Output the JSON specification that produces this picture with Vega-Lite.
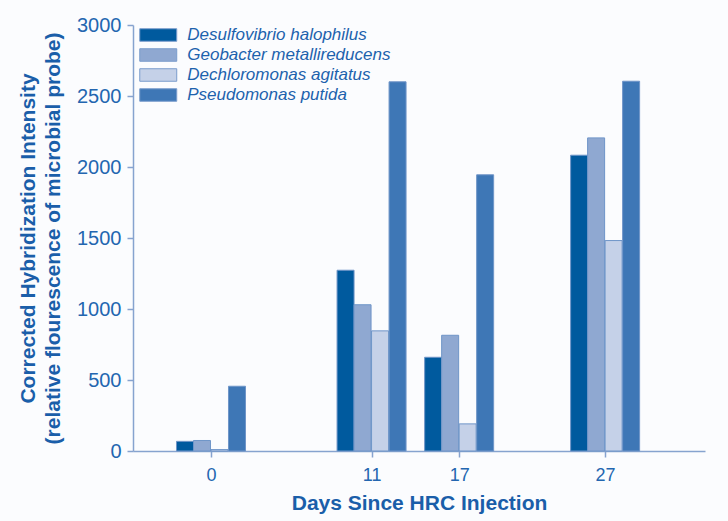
{
  "$schema": "https://vega.github.io/schema/vega-lite/v6.json",
  "width": 572,
  "height": 426,
  "autosize": {"type": "none"},
  "padding": {"left": 133, "top": 25, "right": 23, "bottom": 70},
  "background": "#fbfcfe",
  "config": {
    "font": "Liberation Sans",
    "view": {"stroke": null},
    "axis": {
      "grid": false,
      "domainColor": "#86a3cf",
      "tickColor": "#86a3cf",
      "domainWidth": 1.5,
      "tickWidth": 1.5,
      "labelFont": "Liberation Sans",
      "labelColor": "#2366b0",
      "titleFont": "Liberation Sans",
      "titleColor": "#1a5ea9",
      "titleFontWeight": "bold"
    }
  },
  "data": {
    "values": [
      {"day": 0, "species": "Desulfovibrio halophilus", "intensity": 68},
      {"day": 0, "species": "Geobacter metallireducens", "intensity": 74},
      {"day": 0, "species": "Dechloromonas agitatus", "intensity": 10},
      {"day": 0, "species": "Pseudomonas putida", "intensity": 456},
      {"day": 11, "species": "Desulfovibrio halophilus", "intensity": 1273},
      {"day": 11, "species": "Geobacter metallireducens", "intensity": 1030},
      {"day": 11, "species": "Dechloromonas agitatus", "intensity": 846},
      {"day": 11, "species": "Pseudomonas putida", "intensity": 2600},
      {"day": 17, "species": "Desulfovibrio halophilus", "intensity": 660},
      {"day": 17, "species": "Geobacter metallireducens", "intensity": 815},
      {"day": 17, "species": "Dechloromonas agitatus", "intensity": 191},
      {"day": 17, "species": "Pseudomonas putida", "intensity": 1945},
      {"day": 27, "species": "Desulfovibrio halophilus", "intensity": 2083},
      {"day": 27, "species": "Geobacter metallireducens", "intensity": 2205},
      {"day": 27, "species": "Dechloromonas agitatus", "intensity": 1482},
      {"day": 27, "species": "Pseudomonas putida", "intensity": 2604}
    ]
  },
  "encoding": {
    "x": {
      "field": "day",
      "type": "quantitative",
      "scale": {"domain": [-5, 33.5], "nice": false, "zero": false},
      "axis": {
        "values": [0, 11, 17, 27],
        "title": "Days Since HRC Injection",
        "titleFontSize": 21,
        "titlePadding": 8,
        "labelFontSize": 18,
        "labelPadding": 9,
        "tickSize": 6
      }
    },
    "y": {
      "field": "intensity",
      "type": "quantitative",
      "scale": {"domain": [0, 3000], "nice": false},
      "axis": {
        "values": [0, 500, 1000, 1500, 2000, 2500, 3000],
        "format": "d",
        "title": ["Corrected Hybridization Intensity", "(relative flourescence of microbial probe)"],
        "titleFontSize": 21,
        "titleLineHeight": 25,
        "titlePadding": 13,
        "labelFontSize": 20,
        "labelPadding": 6,
        "tickSize": 6
      }
    },
    "color": {
      "field": "species",
      "type": "nominal",
      "scale": {
        "domain": ["Desulfovibrio halophilus", "Geobacter metallireducens", "Dechloromonas agitatus", "Pseudomonas putida"],
        "range": ["#005a9e", "#8fa8d1", "#c5d1e8", "#3e77b6"]
      },
      "legend": {
        "orient": "none",
        "legendX": 15.25,
        "legendY": 0,
        "title": null,
        "padding": 0,
        "symbolType": "M-2,-0.676H2V0.676H-2Z",
        "symbolSize": 342,
        "symbolStrokeColor": "#7a9ccc",
        "symbolStrokeWidth": 1,
        "symbolOpacity": 1,
        "labelFontSize": 17,
        "labelFontStyle": "italic",
        "labelColor": "#1d62ad",
        "labelOffset": 19,
        "labelLimit": 400,
        "rowPadding": 1
      }
    }
  },
  "layer": [
    {
      "transform": [{"filter": "datum.species === 'Desulfovibrio halophilus'"}],
      "mark": {"type": "bar", "width": 17, "xOffset": -26, "stroke": "#6f95c8", "strokeWidth": 1}
    },
    {
      "transform": [{"filter": "datum.species === 'Geobacter metallireducens'"}],
      "mark": {"type": "bar", "width": 17, "xOffset": -9, "stroke": "#6f95c8", "strokeWidth": 1}
    },
    {
      "transform": [{"filter": "datum.species === 'Dechloromonas agitatus'"}],
      "mark": {"type": "bar", "width": 17, "xOffset": 8.5, "stroke": "#6f95c8", "strokeWidth": 1}
    },
    {
      "transform": [{"filter": "datum.species === 'Pseudomonas putida'"}],
      "mark": {"type": "bar", "width": 17, "xOffset": 26, "stroke": "#6f95c8", "strokeWidth": 1}
    }
  ]
}
